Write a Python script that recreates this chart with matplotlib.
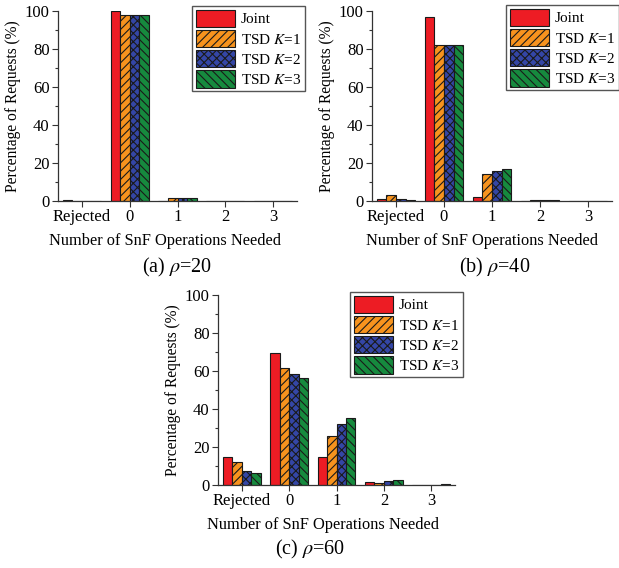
import matplotlib
matplotlib.use("Agg")
import matplotlib.pyplot as plt
import numpy as np
from matplotlib.ticker import MultipleLocator

plt.rcParams['font.family'] = ['Liberation Serif', 'DejaVu Serif']
plt.rcParams['mathtext.fontset'] = 'stix'
plt.rcParams['hatch.linewidth'] = 0.8

categories = ['Rejected', '0', '1', '2', '3']
series_names = ['Joint', 'TSD $K$=1', 'TSD $K$=2', 'TSD $K$=3']

# panel (a) rho=20
a_joint = [0.3, 100.0, 0.0, 0.0, 0.0]
a_k1 = [0.0, 98.0, 1.7, 0.1, 0.0]
a_k2 = [0.0, 98.0, 1.7, 0.1, 0.0]
a_k3 = [0.0, 98.0, 1.7, 0.1, 0.0]

# panel (b) rho=40
b_joint = [1.0, 97.0, 2.0, 0.2, 0.0]
b_k1 = [3.3, 82.0, 14.0, 0.3, 0.0]
b_k2 = [1.0, 82.3, 16.0, 0.6, 0.0]
b_k3 = [0.5, 82.0, 16.7, 0.6, 0.1]

# panel (c) rho=60
c_joint = [15.0, 69.5, 14.6, 1.4, 0.1]
c_k1 = [11.9, 61.4, 25.6, 1.3, 0.1]
c_k2 = [7.5, 58.2, 32.1, 2.2, 0.2]
c_k3 = [6.3, 56.5, 35.3, 2.6, 0.3]

captions = ['(a) $\\rho$=20', '(b) $\\rho$=40', '(c) $\\rho$=60']

colors = ['#ED1C24', '#F7931E', '#3446A6', '#168A3E']
hatches = [None, '////', 'xxxx', '\\\\\\\\']

W, H = 619, 568
fig = plt.figure(figsize=(W / 100, H / 100), dpi=100)

def px_axes(left, right, top, bottom):
    return fig.add_axes([left / W, 1 - bottom / H, (right - left) / W, (bottom - top) / H])

panels = [
    (px_axes(58, 297, 11, 201), [a_joint, a_k1, a_k2, a_k3], (305, 6), (177, 267), 165),
    (px_axes(372, 612, 11, 201), [b_joint, b_k1, b_k2, b_k3], (619, 5), (495, 267), 482),
    (px_axes(218, 455, 295, 485), [c_joint, c_k1, c_k2, c_k3], (463, 292), (310, 549), 323),
]

fs = 12
x = np.arange(len(categories))
bw = 0.2
for i, (ax, data, leg_anchor, cap_pos, xl_center) in enumerate(panels):
    handles = []
    for j, vals in enumerate(data):
        b = ax.bar(x + (j - 1.5) * bw, vals, bw, color=colors[j], edgecolor='#1a1a1a',
                   linewidth=0.8, hatch=hatches[j], label=series_names[j])
        handles.append(b)
    ax.set_xlim(-0.5, 4.5)
    ax.set_ylim(0, 100)
    ax.spines['top'].set_visible(False)
    ax.spines['right'].set_visible(False)
    for s in ['left', 'bottom']:
        ax.spines[s].set_color('#333333')
        ax.spines[s].set_linewidth(0.9)
    ax.set_xticks(x)
    ax.set_xticklabels(categories)
    ax.yaxis.set_major_locator(MultipleLocator(20))
    ax.yaxis.set_minor_locator(MultipleLocator(10))
    ax.tick_params(axis='both', which='major', direction='out', length=4, width=0.8,
                   labelsize=fs, color='#333333', pad=2)
    ax.tick_params(axis='y', which='minor', direction='out', length=2.5, width=0.8, color='#333333')
    ax.set_xlabel('Number of SnF Operations Needed', fontsize=11.8, labelpad=8)
    pos = ax.get_position()
    ax.xaxis.set_label_coords((xl_center / W - pos.x0) / pos.width, -0.17)
    ax.set_ylabel('Percentage of Requests (%)', fontsize=11.2, labelpad=3)
    fig.legend(handles=handles, labels=series_names, loc='upper right',
               bbox_to_anchor=(leg_anchor[0] / W, 1 - leg_anchor[1] / H),
               fontsize=11, frameon=True, fancybox=False, edgecolor='#555555',
               framealpha=1, borderpad=0.25, labelspacing=0.2, handlelength=2.6,
               handleheight=1.35, handletextpad=0.35, borderaxespad=0)
    fig.text(cap_pos[0] / W, 1 - cap_pos[1] / H, captions[i], fontsize=14.5,
             ha='center', va='center')

fig.savefig('out.png', dpi=100)
